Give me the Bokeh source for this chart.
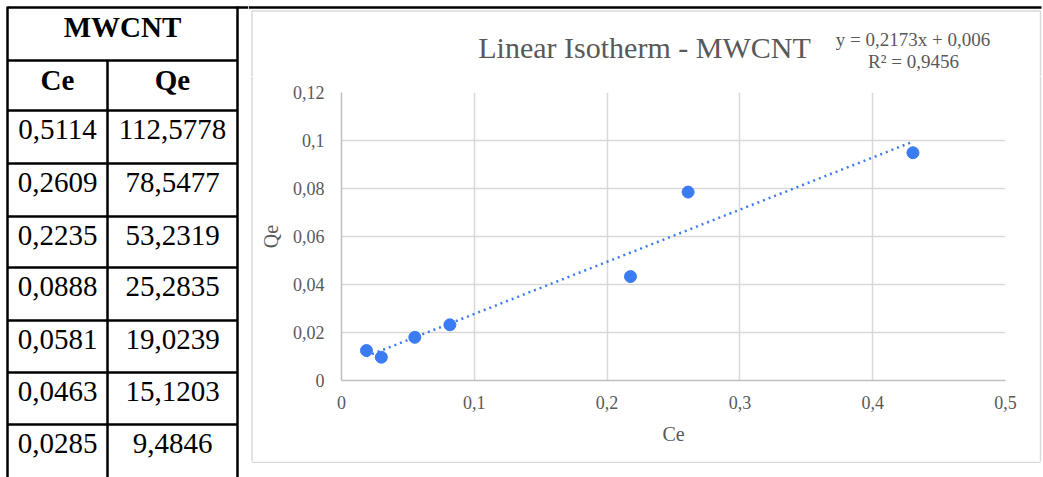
from bokeh.plotting import figure
from bokeh.layouts import row, column
from bokeh.models import Range1d, FixedTicker, CustomJSTickFormatter
from bokeh.core.properties import value
from bokeh.embed import file_html
from bokeh.resources import INLINE

# ---------------- data ----------------
table_title = "MWCNT"
table_headers = ["Ce", "Qe"]
table_ce = ["0,5114", "0,2609", "0,2235", "0,0888", "0,0581", "0,0463", "0,0285"]
table_qe = ["112,5778", "78,5477", "53,2319", "25,2835", "19,0239", "15,1203", "9,4846"]

chart_title = "Linear Isotherm - MWCNT"
x_label = "Ce"
y_label = "Qe"
ce_values = [0.0188, 0.0300, 0.0552, 0.0816, 0.2176, 0.2610, 0.4303]
qe_values = [0.0125, 0.0097, 0.0180, 0.0232, 0.0433, 0.0785, 0.0949]
trend_slope = 0.2173
trend_intercept = 0.006
equation_text = "y = 0,2173x + 0,006"
r2_text = "R\u00b2 = 0,9456"
x_ticks = [0, 0.1, 0.2, 0.3, 0.4, 0.5]
y_ticks = [0, 0.02, 0.04, 0.06, 0.08, 0.1, 0.12]

# ---------------- style / layout ----------------
FONT = "Liberation Serif"
SERIF = value(FONT)
GREY_TEXT = "#595959"
BOX_GREY = "#d9d9d9"
BLUE = "#3C7CF2"
H = 477
TW = 248            # table strip width
CWID = 1043 - TW    # chart column width
TOP_H = 76          # strip above the chart
BOT_H = 16          # strip below the chart
MID_H = H - TOP_H - BOT_H
SIDE_L = 8
SIDE_R = 8
TXT_DY = 19         # text offset below a row's top line


def strip(w, h):
    f = figure(width=w, height=h, x_range=Range1d(0, w), y_range=Range1d(h, 0),
               output_backend="svg", toolbar_location=None, min_border=0,
               x_axis_location=None, y_axis_location=None, outline_line_color=None,
               background_fill_color="white", border_fill_color="white")
    f.frame_align = False
    f.grid.visible = False
    return f


# ---------------- table ----------------
t = strip(TW, H)
left_x, mid_x, right_x = 7, 107, 237
top_y = 7
header_bottom = 60
row_tops = [110, 163, 216, 267, 320, 372, 424]
hlines = [header_bottom] + row_tops
t.segment(x0=[left_x], y0=[top_y], x1=[TW], y1=[top_y], line_color="black", line_width=2.5)
t.segment(x0=[left_x] * len(hlines), y0=hlines, x1=[right_x] * len(hlines), y1=hlines,
          line_color="black", line_width=2.5)
t.segment(x0=[left_x, right_x, mid_x], y0=[top_y - 1, top_y - 1, header_bottom],
          x1=[left_x, right_x, mid_x], y1=[H, H, H], line_color="black", line_width=2.5)

c1 = (left_x + mid_x) / 2
c2 = (mid_x + right_x) / 2
t.text(x=[(left_x + right_x) / 2], y=[top_y + TXT_DY], text=[table_title], text_font=SERIF,
       text_font_style="bold", text_font_size="29px", text_align="center",
       text_baseline="alphabetic", text_color="black")
t.text(x=[c1, c2], y=[header_bottom + TXT_DY] * 2, text=table_headers, text_font=SERIF,
       text_font_style="bold", text_font_size="29px", text_align="center",
       text_baseline="alphabetic", text_color="black")
base = [r + TXT_DY for r in row_tops]
t.text(x=[c1] * len(table_ce), y=base, text=table_ce, text_font=SERIF,
       text_font_size="29px", text_align="center", text_baseline="alphabetic", text_color="black")
t.text(x=[c2] * len(table_qe), y=base, text=table_qe, text_font=SERIF,
       text_font_size="29px", text_align="center", text_baseline="alphabetic", text_color="black")

# ---------------- chart frame box pieces ----------------
box_l, box_r, box_t = 3.5, 792.0, 10.5

top = strip(CWID, TOP_H)
top.segment(x0=[0], y0=[7], x1=[793], y1=[7], line_color="black", line_width=2.5)
top.segment(x0=[box_l, box_l, box_r], y0=[box_t, box_t, box_t], x1=[box_r, box_l, box_r],
            y1=[box_t, TOP_H, TOP_H], line_color=BOX_GREY, line_width=1.5)
top.text(x=[396], y=[47], text=[chart_title], text_font=SERIF, text_font_size="30px",
         text_color=GREY_TEXT, text_align="center", text_baseline="alphabetic")
top.text(x=[664.5, 665], y=[39, 60.5], text=[equation_text, r2_text], text_font=SERIF,
         text_font_size="19px", text_color=GREY_TEXT, text_align="center",
         text_baseline="alphabetic")

left_strip = strip(SIDE_L, MID_H)
left_strip.segment(x0=[box_l], y0=[0], x1=[box_l], y1=[MID_H], line_color=BOX_GREY, line_width=1.5)

right_strip = strip(SIDE_R, MID_H)
rx = box_r - (CWID - SIDE_R)
right_strip.segment(x0=[rx], y0=[0], x1=[rx], y1=[MID_H], line_color=BOX_GREY, line_width=1.5)

bottom = strip(CWID, BOT_H)
bottom.segment(x0=[box_l, box_l, box_r], y0=[0.75, 0, 0], x1=[box_r, box_l, box_r],
               y1=[0.75, 0.75, 0.75], line_color=BOX_GREY, line_width=1.5)

# ---------------- chart ----------------
PW = CWID - SIDE_L - SIDE_R
p = figure(width=PW, height=MID_H, x_range=Range1d(0, 0.5), y_range=Range1d(0, 0.12),
           output_backend="svg", toolbar_location=None,
           min_border_left=85, min_border_right=30, min_border_top=92 - TOP_H,
           min_border_bottom=81,
           background_fill_color="white", border_fill_color="white", outline_line_color=None)
p.frame_align = False

fmt = CustomJSTickFormatter(code="return parseFloat(tick.toFixed(4)).toString().replace('.', ',');")
p.xaxis.ticker = FixedTicker(ticks=x_ticks)
p.yaxis.ticker = FixedTicker(ticks=y_ticks)
p.xgrid.ticker = FixedTicker(ticks=x_ticks)
p.ygrid.ticker = FixedTicker(ticks=y_ticks)
for g in (p.xgrid, p.ygrid):
    g.grid_line_color = BOX_GREY
    g.grid_line_width = 1.5
for ax in (p.xaxis, p.yaxis):
    ax.formatter = fmt
    ax.axis_line_color = "#bfbfbf"
    ax.axis_line_width = 1.5
    ax.major_tick_line_color = None
    ax.minor_tick_line_color = None
    ax.major_tick_out = 0
    ax.major_tick_in = 0
    ax.major_label_text_font = FONT
    ax.major_label_text_font_size = "18px"
    ax.major_label_text_color = GREY_TEXT
    ax.axis_label_text_font = FONT
    ax.axis_label_text_font_size = "20px"
    ax.axis_label_text_font_style = "normal"
    ax.axis_label_text_color = GREY_TEXT
p.xaxis.axis_label = x_label
p.yaxis.axis_label = y_label
p.yaxis.major_label_standoff = 17
p.yaxis.axis_label_standoff = 8
p.xaxis.major_label_standoff = 15
p.xaxis.axis_label_standoff = 11

x0, x1 = min(ce_values), max(ce_values)
p.line([x0, x1], [trend_slope * x0 + trend_intercept, trend_slope * x1 + trend_intercept],
       line_color=BLUE, line_width=2.5, line_dash="2 4")
p.scatter(ce_values, qe_values, size=12, color=BLUE, line_color=BLUE)

chart_col = column(top, row(left_strip, p, right_strip), bottom)
layout = row(t, chart_col)
open("out.html", "w").write(file_html(layout, INLINE))
